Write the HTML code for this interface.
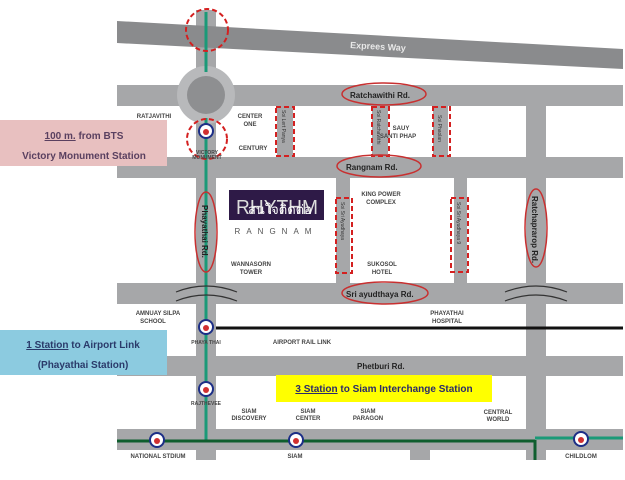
<!DOCTYPE html>
<html><head><meta charset="utf-8"><style>
html,body{margin:0;padding:0;background:#fff;width:625px;height:480px;overflow:hidden}
svg{display:block}
text{font-family:"Liberation Sans",sans-serif}
</style></head><body>
<svg width="625" height="480" viewBox="0 0 625 480" xmlns="http://www.w3.org/2000/svg">
<g fill="#a6a7a9">
<rect x="117" y="85" width="506" height="21"/>
<rect x="117" y="157" width="506" height="21"/>
<rect x="117" y="283" width="506" height="21"/>
<rect x="117" y="356" width="506" height="20"/>
<rect x="117" y="429" width="506" height="21"/>
<rect x="196" y="10" width="20" height="450"/>
<rect x="526" y="106" width="20" height="354"/>
<rect x="277" y="106" width="16" height="51"/>
<rect x="372" y="106" width="16" height="51"/>
<rect x="433" y="106" width="15" height="51"/>
<rect x="336" y="178" width="14" height="105"/>
<rect x="454" y="178" width="13" height="105"/>
<rect x="410" y="450" width="20" height="10"/>
</g>
<circle cx="206" cy="95" r="29" fill="#b8b9bb"/>
<circle cx="206" cy="95" r="19" fill="#8e8f91"/>
<polygon points="117,21 623,49 623,69 117,43" fill="#8a8b8d"/>
<rect x="196" y="10" width="20" height="11" fill="#a6a7a9"/>
<text x="350" y="48" font-size="9" font-weight="bold" fill="#e8e8e8" transform="rotate(3.2 350 48)">Exprees Way</text>
<!-- green line -->
<line x1="206" y1="12" x2="206" y2="72" stroke="#1a9a78" stroke-width="3"/>
<line x1="206" y1="118" x2="206" y2="440" stroke="#1a9a78" stroke-width="3"/>
<line x1="117" y1="441" x2="535" y2="441" stroke="#0f5e2e" stroke-width="3"/>
<line x1="535" y1="440" x2="535" y2="460" stroke="#0f5e2e" stroke-width="3"/>
<line x1="535" y1="438" x2="623" y2="438" stroke="#1a9a78" stroke-width="3"/>
<line x1="216" y1="328" x2="623" y2="328" stroke="#111" stroke-width="3"/>
<!-- bridge arcs -->
<g fill="none" stroke="#333" stroke-width="1.2">
<path d="M176,292 Q206,280 237,292"/><path d="M176,301 Q206,289 237,301"/>
<path d="M505,292 Q536,280 567,292"/><path d="M505,301 Q536,289 567,301"/>
</g>
<!-- red dashed -->
<g fill="none" stroke="#d42020" stroke-width="2" stroke-dasharray="5,3">
<circle cx="207" cy="30" r="21"/>
<circle cx="207" cy="139" r="20"/>
<rect x="276" y="107" width="18" height="49"/>
<rect x="372" y="107" width="17" height="49"/>
<rect x="433" y="107" width="17" height="49"/>
<rect x="336" y="198" width="16" height="75"/>
<rect x="451" y="198" width="17" height="74"/>
</g>
<g fill="none" stroke="#c83030" stroke-width="1.5">
<ellipse cx="384" cy="94" rx="42" ry="11"/>
<ellipse cx="379" cy="166" rx="42" ry="11"/>
<ellipse cx="385" cy="293" rx="43" ry="11"/>
<ellipse cx="206" cy="232" rx="11" ry="40"/>
<ellipse cx="536" cy="228" rx="11" ry="39"/>
</g>
<!-- road labels -->
<g font-size="8" fill="#222" font-weight="bold">
<text x="350" y="98">Ratchawithi Rd.</text>
<text x="346" y="170">Rangnam Rd.</text>
<text x="346" y="297">Sri ayudthaya Rd.</text>
<text x="357" y="369">Phetburi Rd.</text>
<text transform="translate(202,205) rotate(90)">Phayathai Rd.</text>
<text transform="translate(532,196) rotate(90)">Ratchaprarop Rd.</text>
</g>
<g font-size="5" fill="#333">
<text transform="translate(282,110) rotate(90)">Soi Lert Panya</text>
<text transform="translate(377,110) rotate(90)">Soi Ratchawithi</text>
<text transform="translate(438,115) rotate(90)">Soi Phaolan</text>
<text transform="translate(341,202) rotate(90)">Soi Sri Ayudhaya</text>
<text transform="translate(457,202) rotate(90)">Soi Sri Ayudhaya 9</text>
</g>
<g font-size="6" fill="#444" text-anchor="middle" font-weight="bold">
<text x="154" y="118">RATJAVITHI</text>
<text x="250" y="118">CENTER</text><text x="250" y="126">ONE</text>
<text x="253" y="150">CENTURY</text>
<text x="401" y="130">SAUY</text><text x="398" y="138">SANTI PHAP</text>
<text x="381" y="196">KING POWER</text><text x="381" y="204">COMPLEX</text>
<text x="251" y="266">WANNASORN</text><text x="251" y="274">TOWER</text>
<text x="382" y="266">SUKOSOL</text><text x="382" y="274">HOTEL</text>
<text x="158" y="315">AMNUAY SILPA</text><text x="153" y="323">SCHOOL</text>
<text x="447" y="315">PHAYATHAI</text><text x="447" y="323">HOSPITAL</text>
<text x="302" y="344">AIRPORT RAIL LINK</text>
<text x="206" y="344" font-size="5">PHAYA THAI</text>
<text x="206" y="405" font-size="5">RAJTHEVEE</text>
<text x="207" y="154" font-size="5">VICTORY</text><text x="207" y="159" font-size="5">MONUMENT</text>
<text x="249" y="413">SIAM</text><text x="249" y="420">DISCOVERY</text>
<text x="308" y="413">SIAM</text><text x="308" y="420">CENTER</text>
<text x="368" y="413">SIAM</text><text x="368" y="420">PARAGON</text>
<text x="498" y="414">CENTRAL</text><text x="498" y="421">WORLD</text>
<text x="158" y="458">NATIONAL STDIUM</text>
<text x="295" y="458">SIAM</text>
<text x="581" y="458">CHILDLOM</text>
</g>
<!-- BTS icons -->
<g fill="#fff" stroke="#1c2e86" stroke-width="2">
<circle cx="206" cy="131" r="7"/><circle cx="206" cy="327" r="7"/><circle cx="206" cy="389" r="7"/>
<circle cx="157" cy="440" r="7"/><circle cx="296" cy="440" r="7"/><circle cx="581" cy="439" r="7"/>
</g>
<g fill="#d03030">
<circle cx="206" cy="132" r="3"/><circle cx="206" cy="328" r="3"/><circle cx="206" cy="390" r="3"/>
<circle cx="157" cy="441" r="3"/><circle cx="296" cy="441" r="3"/><circle cx="581" cy="440" r="3"/>
</g>
<!-- Rhythm -->
<rect x="229" y="190" width="95" height="30" fill="#2e1a47"/>
<text x="236" y="214" font-size="20" fill="#ddd" textLength="82" lengthAdjust="spacingAndGlyphs">RHYTHM</text>
<text x="276" y="234" font-size="8" fill="#555" text-anchor="middle" letter-spacing="6">RANGNAM</text>
<text x="248" y="214" font-size="13" fill="#fff" font-family="'Liberation Sans','Noto Sans CJK SC',sans-serif">สนใจติดต่อ</text>
<!-- boxes -->
<rect x="0" y="120" width="167" height="46" fill="#e8c0c0"/>
<text x="84" y="139" font-size="10" fill="#5a4060" text-anchor="middle" font-weight="bold"><tspan text-decoration="underline">100 m.</tspan> from BTS</text>
<text x="84" y="159" font-size="10" fill="#5a4060" text-anchor="middle" font-weight="bold">Victory Monument Station</text>
<rect x="0" y="330" width="167" height="45" fill="#8ccbe0"/>
<text x="83" y="348" font-size="10" fill="#2a3a6a" text-anchor="middle" font-weight="bold"><tspan text-decoration="underline">1 Station</tspan> to Airport Link</text>
<text x="83" y="368" font-size="10" fill="#2a3a6a" text-anchor="middle" font-weight="bold">(Phayathai  Station)</text>
<rect x="276" y="375" width="216" height="27" fill="#ffff00"/>
<text x="384" y="392" font-size="10" fill="#2a2a6a" text-anchor="middle" font-weight="bold"><tspan text-decoration="underline">3 Station</tspan> to  Siam Interchange Station</text>
</svg>
</body></html>
